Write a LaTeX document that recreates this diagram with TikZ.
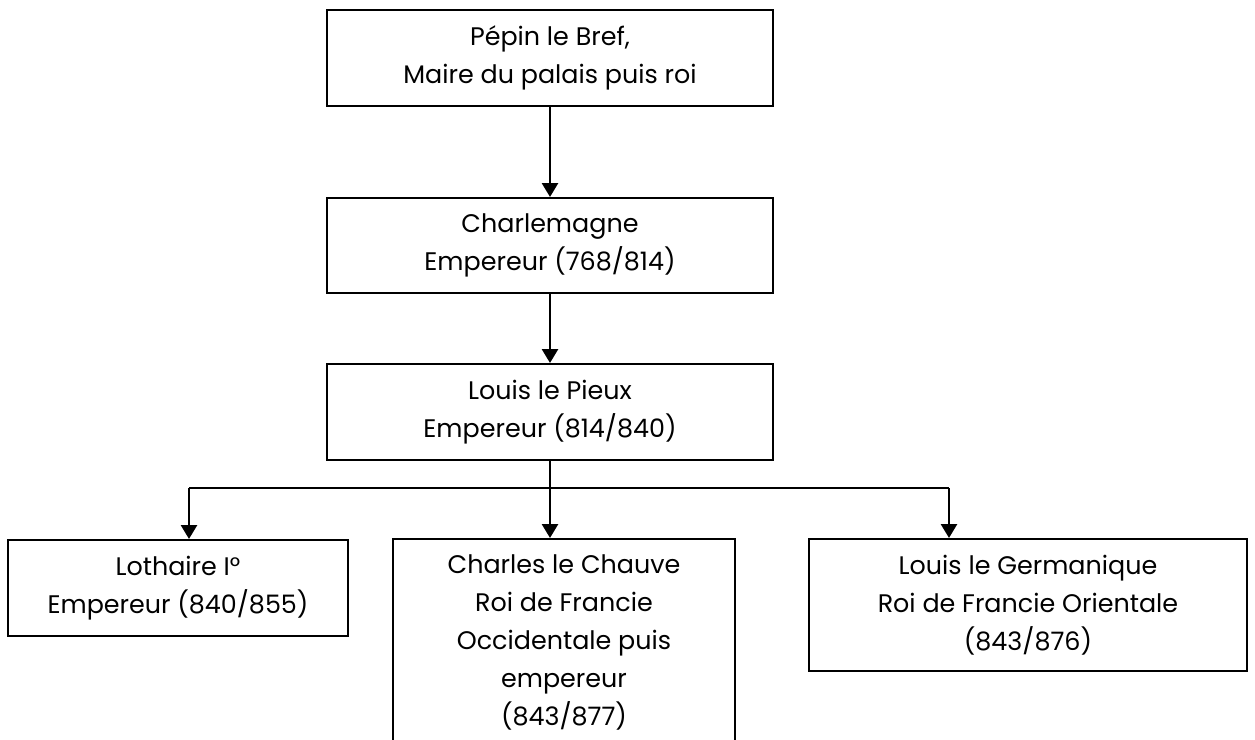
\documentclass[tikz,border=0pt]{standalone}
\usepackage{fontspec}
\setmainfont{Poppins}
\usetikzlibrary{arrows.meta}

\begin{document}
\begin{tikzpicture}[x=0.5pt,y=-0.5pt,
    boite/.style={draw, line width=1pt, align=center, anchor=north, inner ysep=8pt,
      font=\fontsize{12.7}{19}\selectfont},
    fleche/.style={line width=1.4pt, -{Triangle[width=8pt,length=7pt]}},
    trait/.style={line width=1pt}]
  \useasboundingbox (0,0) rectangle (1255,740);
  \node[boite, minimum width=223pt] (pepin) at (550,9) {Pépin le Bref,\\Maire du palais puis roi};
  \node[boite, minimum width=223pt] (charlemagne) at (550,197) {Charlemagne\\Empereur (768/814)};
  \node[boite, minimum width=223pt] (pieux) at (550,363) {Louis le Pieux\\Empereur (814/840)};
  \node[boite, minimum width=170pt] (lothaire) at (178,539) {Lothaire I°\\Empereur (840/855)};
  \node[boite, minimum width=171pt] (chauve) at (564,538) {Charles le Chauve\\Roi de Francie\\Occidentale puis\\empereur\\(843/877)};
  \node[boite, minimum width=219pt] (germanique) at (1028,538) {Louis le Germanique\\Roi de Francie Orientale\\(843/876)};
  % embranchement vers les fils
  \coordinate (embL) at (189,488);
  \coordinate (embC) at (550,488);
  \coordinate (embG) at (949,488);
  \draw[fleche] (pepin) -- (charlemagne);
  \draw[fleche] (charlemagne) -- (pieux);
  \draw[trait] (pieux) -- (embC);
  \draw[trait] (embL) -- (embG);
  \draw[fleche] (embL) -- (embL |- lothaire.north);
  \draw[fleche] (embC) -- (embC |- chauve.north);
  \draw[fleche] (embG) -- (embG |- germanique.north);
\end{tikzpicture}
\end{document}
